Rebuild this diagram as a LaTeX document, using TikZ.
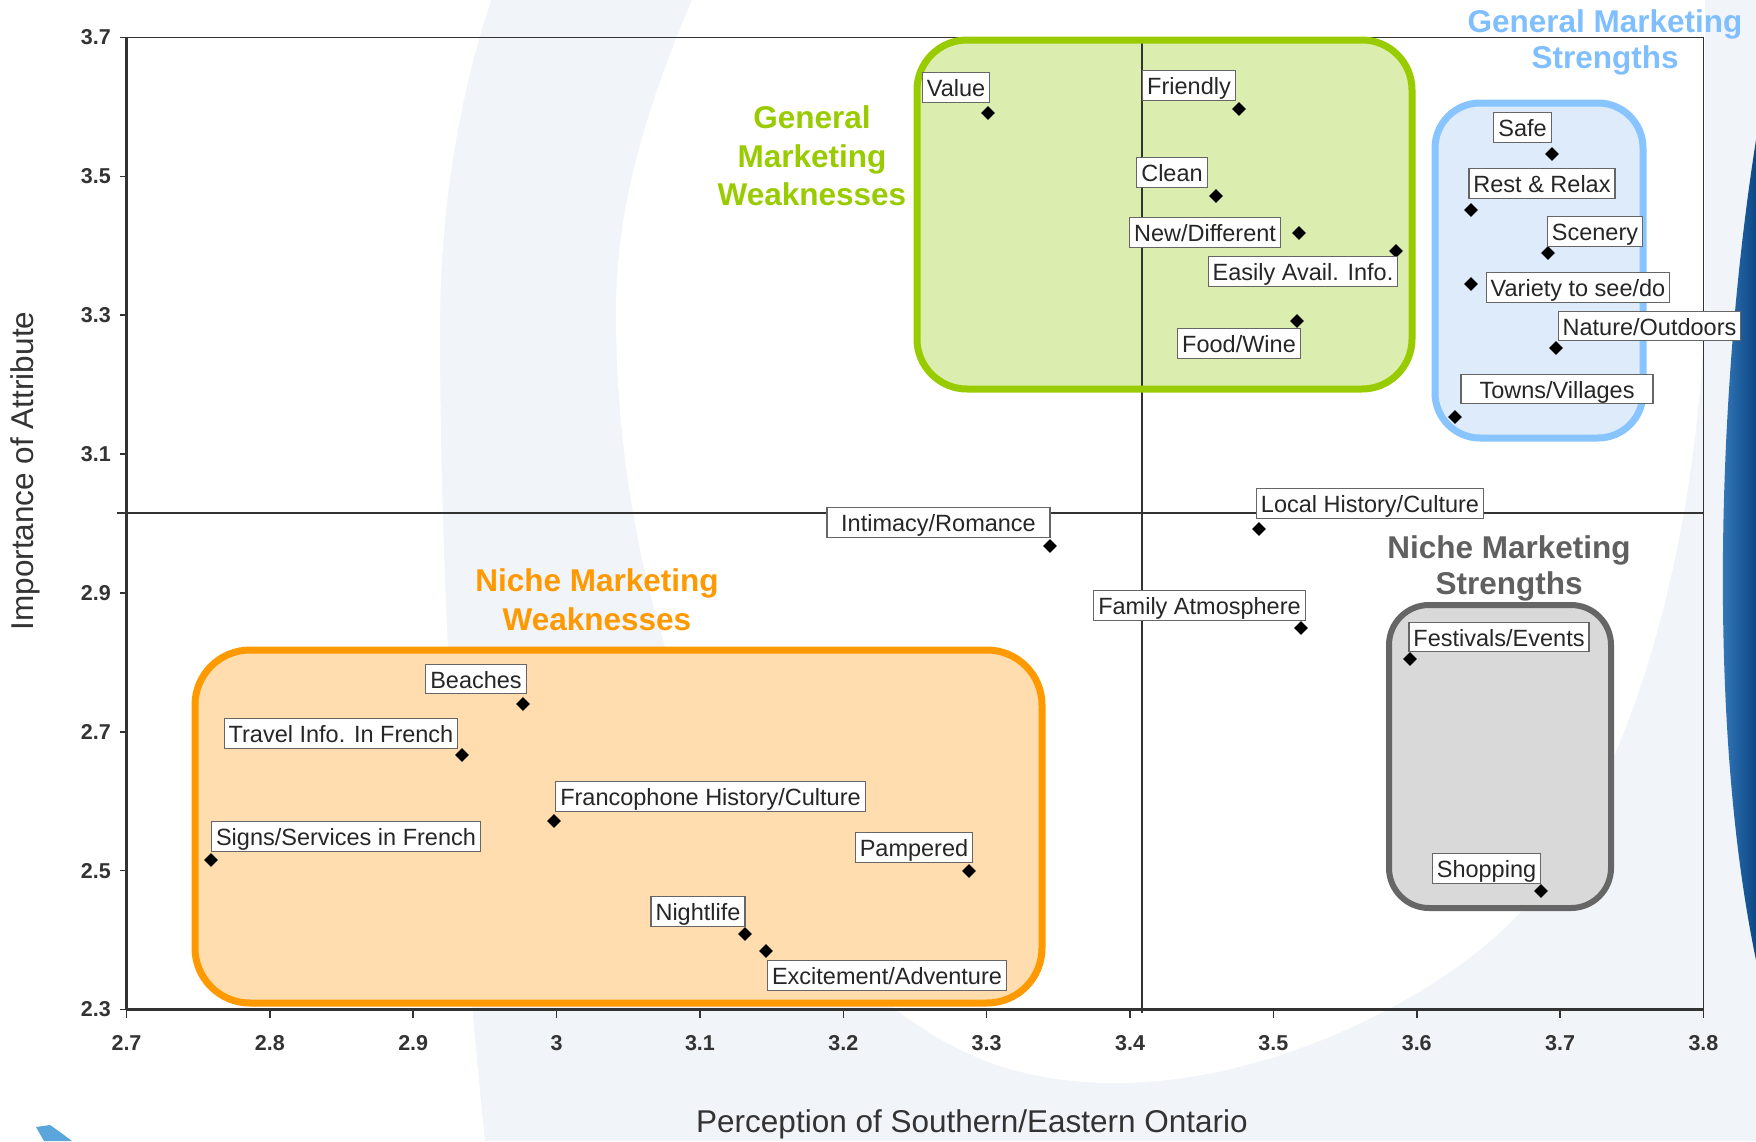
\documentclass[tikz,border=0pt]{standalone}
\usepackage{fontspec}
\setmainfont{Liberation Sans}
\usetikzlibrary{shapes.geometric}

\definecolor{gmw}{HTML}{99CC00}
\definecolor{gmwfill}{HTML}{DCEDB0}
\definecolor{gms}{HTML}{88C4FF}
\definecolor{gmsfill}{HTML}{DDEBFA}
\definecolor{nmw}{HTML}{FF9900}
\definecolor{nmwfill}{HTML}{FFDDAE}
\definecolor{nms}{HTML}{666666}
\definecolor{nmsfill}{HTML}{D9D9D9}
\definecolor{nmstitle}{HTML}{606060}
\definecolor{pale}{HTML}{F1F4F9}
\definecolor{axisc}{HTML}{333333}
\definecolor{titleblue}{HTML}{80BFFF}
\definecolor{labbd}{HTML}{666666}
\definecolor{swooshL}{HTML}{4A8ED0}
\definecolor{swooshR}{HTML}{0A4785}
\definecolor{fragblue}{HTML}{5AA5DC}

\newcommand\lblfont{\fontsize{23.5}{28}\selectfont}
\newcommand\ttlfont{\fontsize{31.5}{38}\selectfont\bfseries}
\newcommand\axtfont{\fontsize{31.5}{38}\selectfont}
\newcommand\tickfont{\fontsize{21.5}{26}\selectfont\bfseries}

\begin{document}
\begin{tikzpicture}[x=1pt,y=-1pt,
  dia/.style={diamond, fill=black, inner sep=0pt, minimum width=14pt, minimum height=14pt},
  lab/.style={draw=labbd, line width=1.2pt, fill=white, text=black!85, font=\lblfont,
              inner xsep=4.5pt, inner ysep=2pt, text height=22pt, text depth=3.5pt},
  ticklab/.style={font=\tickfont, text=axisc, inner sep=0pt},
  ttl/.style={font=\ttlfont, anchor=base, inner sep=0pt},
  zone/.style={line width=7pt, rounded corners=50pt},
  axline/.style={draw=axisc},
]
\useasboundingbox (0,0) rectangle (1756,1141);

% ---------- background decoration ----------
\fill[pale] (0,0) rectangle (1756,1141);
\fill[white] (0,0) -- (491,0) .. controls (455,110) and (440,220) .. (440,330)
  .. controls (440,600) and (460,900) .. (485,1141) -- (0,1141) -- cycle;
\fill[white] (692,0) .. controls (650,100) and (616,200) .. (616,312)
  .. controls (616,700) and (800,1000) .. (1000,1066)
  .. controls (1200,1130) and (1450,1000) .. (1530,901)
  .. controls (1650,750) and (1700,500) .. (1705,300) -- (1705,0) -- cycle;
\shade[left color=swooshL, right color=swooshR]
  (1756,140) .. controls (1718,380) and (1706,720) .. (1756,960) -- cycle;
\fill[fragblue] (36,1127) -- (50,1125) .. controls (60,1132) .. (72,1141) -- (44,1141) -- cycle;

% ---------- zone fills ----------
\fill[gmwfill, rounded corners=50pt] (917,40) rectangle (1412,389);
\fill[gmsfill, rounded corners=45pt] (1435,103) rectangle (1643,438);
\fill[nmwfill, rounded corners=55pt] (195,650) rectangle (1042,1003);
\fill[nmsfill, rounded corners=40pt] (1389,605) rectangle (1611,908);

% ---------- axes ----------
\draw[axline, line width=1.5pt] (126.5,37.5) -- (1703.5,37.5) -- (1703.5,1009.5);
\draw[axline, line width=2.5pt] (126.5,36.5) -- (126.5,1009.5);
\draw[axline, line width=3pt] (126.5,1009.5) -- (1703.5,1009.5);
\foreach \i/\t in {0/2.7,1/2.8,2/2.9,3/3,4/3.1,5/3.2,6/3.3,7/3.4,8/3.5,9/3.6,10/3.7,11/3.8}{
  \draw[axline, line width=1.5pt] (126.5+143.36*\i,1009.5) -- ++(0,8);
  \node[ticklab] (xt\i) at (126.5+143.36*\i,1043) {\t};
}
\foreach \j/\t in {0/3.7,1/3.5,2/3.3,3/3.1,4/2.9,5/2.7,6/2.5,7/2.3}{
  \draw[axline, line width=1.5pt] (126.5,37.5+138.86*\j) -- ++(-7,0);
  \node[ticklab, anchor=east] (yt\j) at (111,37.5+138.86*\j) {\t};
}
% quadrant lines
\draw[axline, line width=1.5pt] (1142,37.5) -- (1142,1013);
\draw[axline, line width=1.5pt] (117,513) -- (1703.5,513);

% ---------- zone outlines ----------
\draw[gmw, zone] (917,40) rectangle (1412,389);
\draw[gms, zone, rounded corners=45pt] (1435,103) rectangle (1643,438);
\draw[nmw, zone, rounded corners=55pt] (195,650) rectangle (1042,1003);
\draw[nms, line width=6pt, rounded corners=40pt] (1389,605) rectangle (1611,908);

% ---------- zone titles ----------
\node[ttl, text=gmw] (tgw1) at (812,128.5) {General};
\node[ttl, text=gmw] (tgw2) at (812,167) {Marketing};
\node[ttl, text=gmw] (tgw3) at (812,205) {Weaknesses};
\node[ttl, text=titleblue] (tgs1) at (1605,32) {General Marketing};
\node[ttl, text=titleblue] (tgs2) at (1605,68) {Strengths};
\node[ttl, text=nmw] (tnw1) at (597,591) {Niche Marketing};
\node[ttl, text=nmw] (tnw2) at (597,630) {Weaknesses};
\node[ttl, text=nmstitle] (tns1) at (1509,558) {Niche Marketing};
\node[ttl, text=nmstitle] (tns2) at (1509,594) {Strengths};

% ---------- axis titles ----------
\node[font=\axtfont, text=axisc, rotate=90, inner sep=0pt] (ytitle) at (25,471) {Importance of Attribute};
\node[font=\axtfont, text=axisc, inner sep=0pt] (xtitle) at (972,1124) {Perception of Southern/Eastern Ontario};

% ---------- data points ----------
\node[dia] (p-value) at (988,113) {};
\node[dia] (p-friendly) at (1239,109) {};
\node[dia] (p-clean) at (1216,196) {};
\node[dia] (p-new) at (1299,233) {};
\node[dia] (p-easily) at (1396,251) {};
\node[dia] (p-food) at (1297,321) {};
\node[dia] (p-safe) at (1552,154) {};
\node[dia] (p-rest) at (1471,210) {};
\node[dia] (p-scenery) at (1548,253) {};
\node[dia] (p-variety) at (1471,284) {};
\node[dia] (p-nature) at (1556,348) {};
\node[dia] (p-towns) at (1455,417) {};
\node[dia] (p-local) at (1259,529) {};
\node[dia] (p-intimacy) at (1050,546) {};
\node[dia] (p-family) at (1301,628) {};
\node[dia] (p-festivals) at (1410,659) {};
\node[dia] (p-shopping) at (1541,891) {};
\node[dia] (p-beaches) at (523,704) {};
\node[dia] (p-travel) at (462,755) {};
\node[dia] (p-franco) at (554,821) {};
\node[dia] (p-signs) at (211,860) {};
\node[dia] (p-pampered) at (969,871) {};
\node[dia] (p-nightlife) at (745,934) {};
\node[dia] (p-excitement) at (766,951) {};

% ---------- labels ----------
\node[lab] (l-value) at (956,87.5) {Value};
\node[lab] (l-friendly) at (1189,85.5) {Friendly};
\node[lab] (l-clean) at (1172,172.5) {Clean};
\node[lab] (l-new) at (1205,232.5) {New/Different};
\node[lab] (l-easily) at (1303,271.5) {Easily Avail. Info.};
\node[lab] (l-food) at (1239,343.5) {Food/Wine};
\node[lab] (l-safe) at (1522.5,127.5) {Safe};
\node[lab] (l-rest) at (1542,183.5) {Rest \& Relax};
\node[lab] (l-scenery) at (1595,231.5) {Scenery};
\node[lab] (l-variety) at (1578,287.5) {Variety to see/do};
\node[lab] (l-nature) at (1649.5,326) {Nature/Outdoors};
\node[lab, minimum width=192pt] (l-towns) at (1557,389) {Towns/Villages};
\node[lab] (l-local) at (1370,503.5) {Local History/Culture};
\node[lab, minimum width=223pt] (l-intimacy) at (938.5,522.5) {Intimacy/Romance};
\node[lab] (l-family) at (1199.5,605.5) {Family Atmosphere};
\node[lab] (l-festivals) at (1499,637) {Festivals/Events};
\node[lab] (l-shopping) at (1486.5,868.5) {Shopping};
\node[lab] (l-beaches) at (476,679) {Beaches};
\node[lab] (l-travel) at (341,733.5) {Travel Info. In French};
\node[lab] (l-franco) at (710.5,796.5) {Francophone History/Culture};
\node[lab] (l-signs) at (346,836.5) {Signs/Services in French};
\node[lab] (l-pampered) at (914,847.5) {Pampered};
\node[lab] (l-nightlife) at (698,911.5) {Nightlife};
\node[lab] (l-excitement) at (887,975.5) {Excitement/Adventure};
\end{tikzpicture}
\end{document}
